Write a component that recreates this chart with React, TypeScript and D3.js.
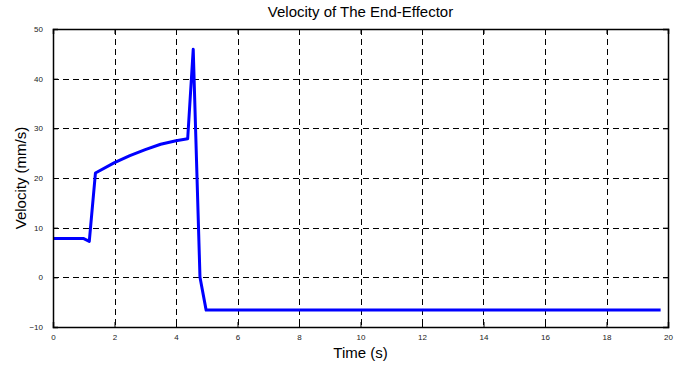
import React, { useEffect, useRef } from "react";
import * as d3 from "d3";

// time (s) and end-effector velocity (mm/s)
const timeValues = [0, 1.0, 1.18, 1.38, 2.0, 2.5, 3.0, 3.5, 4.0, 4.38, 4.56, 4.78, 4.98, 19.76];
const velocityValues = [7.8, 7.8, 7.25, 21.0, 23.1, 24.5, 25.7, 26.8, 27.5, 27.9, 45.9, 0, -6.6, -6.6];
const xTicks = [0, 2, 4, 6, 8, 10, 12, 14, 16, 18, 20];
const yTicks = [-10, 0, 10, 20, 30, 40, 50];

const W = 687;
const H = 368;
const margin = { left: 53, right: 19, top: 29, bottom: 41 };

const App = () => {
  const ref = useRef<SVGSVGElement>(null);

  useEffect(() => {
    const svg = d3.select(ref.current);
    svg.selectAll("*").remove();

    const x = d3.scaleLinear().domain([0, 20]).range([margin.left, W - margin.right]);
    const y = d3.scaleLinear().domain([-10, 50]).range([H - margin.bottom, margin.top]);
    const font = "Liberation Sans, Arial, sans-serif";

    svg.append("rect").attr("width", W).attr("height", H).attr("fill", "white");

    // grid
    const grid = svg.append("g").attr("stroke", "#000").attr("stroke-width", 1).attr("stroke-dasharray", "6,4");
    grid.selectAll(".gx")
      .data(xTicks.slice(1, -1))
      .enter()
      .append("line")
      .attr("x1", d => Math.round(x(d)) + 0.5)
      .attr("x2", d => Math.round(x(d)) + 0.5)
      .attr("y1", y(50))
      .attr("y2", y(-10));
    grid.selectAll(".gy")
      .data(yTicks.slice(1, -1))
      .enter()
      .append("line")
      .attr("y1", d => Math.round(y(d)) + 0.5)
      .attr("y2", d => Math.round(y(d)) + 0.5)
      .attr("x1", x(0))
      .attr("x2", x(20));

    // data line
    const pts = timeValues.map((t, i) => [t, velocityValues[i]] as [number, number]);
    const line = d3.line<[number, number]>().x(d => x(d[0])).y(d => y(d[1]));
    svg.append("path")
      .datum(pts)
      .attr("d", line)
      .attr("fill", "none")
      .attr("stroke", "#0000ff")
      .attr("stroke-width", 3)
      .attr("stroke-linejoin", "round");

    // axes (ticks inward, box)
    const bottom = svg.append("g")
      .attr("transform", `translate(0,${y(-10)})`)
      .call(d3.axisBottom(x).tickValues(xTicks).tickSize(-5).tickPadding(10).tickFormat(d3.format("d")));
    const top = svg.append("g")
      .attr("transform", `translate(0,${y(50)})`)
      .call(d3.axisTop(x).tickValues(xTicks).tickSize(-5).tickFormat(() => ""));
    const left = svg.append("g")
      .attr("transform", `translate(${x(0)},0)`)
      .call(d3.axisLeft(y).tickValues(yTicks).tickSize(-5).tickPadding(10).tickFormat(d3.format("d")));
    const right = svg.append("g")
      .attr("transform", `translate(${x(20)},0)`)
      .call(d3.axisRight(y).tickValues(yTicks).tickSize(-5).tickFormat(() => ""));

    [bottom, top, left, right].forEach(g => {
      g.select(".domain").attr("stroke", "#000").attr("stroke-width", 1.5);
      g.selectAll(".tick line").attr("stroke", "#000");
      g.selectAll("text").attr("font-family", font).attr("font-size", 8).attr("fill", "#222");
    });
    bottom.selectAll("text").attr("dy", "0.4em");

    svg.append("text")
      .attr("x", (x(0) + x(20)) / 2)
      .attr("y", 17)
      .attr("text-anchor", "middle")
      .attr("font-family", font)
      .attr("font-size", 15)
      .text("Velocity of The End-Effector");

    svg.append("text")
      .attr("x", (x(0) + x(20)) / 2)
      .attr("y", 358)
      .attr("text-anchor", "middle")
      .attr("font-family", font)
      .attr("font-size", 15)
      .text("Time (s)");

    svg.append("text")
      .attr("transform", `translate(26,${(y(-10) + y(50)) / 2}) rotate(-90)`)
      .attr("text-anchor", "middle")
      .attr("font-family", font)
      .attr("font-size", 15)
      .text("Velocity (mm/s)");
  }, []);

  return (
    <svg
      ref={ref}
      width={W}
      height={H}
      style={{ position: "fixed", left: 0, top: 0 }}
    ></svg>
  );
};

export default App;
